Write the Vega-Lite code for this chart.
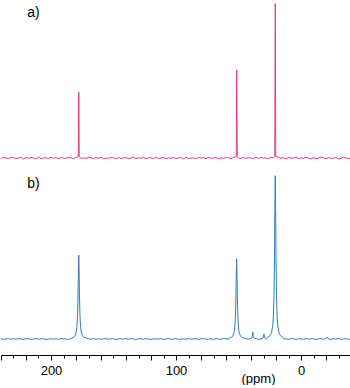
{
"$schema": "https://vega.github.io/schema/vega-lite/v6.json",
"padding": 0,
"spacing": 5,
"config": {"view": {"stroke": null}, "font": "Liberation Sans"},
"datasets": {
"a": [
{"p":-40,"i":0.3},{"p":-38,"i":-0.4},{"p":-36,"i":0.1},{"p":-34,"i":0.6},{"p":-32,"i":-0.2},{"p":-30,"i":-0.6},{"p":-28,"i":0.4},{"p":-26,"i":0.0},{"p":-24,"i":-0.3},{"p":-22,"i":0.5},
{"p":-20,"i":-0.5},{"p":-18,"i":0.2},{"p":-16,"i":0.7},{"p":-14,"i":-0.1},{"p":-12,"i":-0.4},{"p":-10,"i":0.3},{"p":-8,"i":-0.7},{"p":-6,"i":0.1},{"p":-4,"i":0.5},{"p":-2,"i":-0.3},
{"p":0,"i":0.2},{"p":2,"i":-0.5},{"p":4,"i":0.6},{"p":6,"i":-0.1},{"p":8,"i":0.0},{"p":10,"i":0.4},{"p":12,"i":-0.6},{"p":14,"i":0.3},{"p":16,"i":-0.2},{"p":18,"i":0.6},
{"p":20.2,"i":1.0},{"p":20.6,"i":100},{"p":21.0,"i":1.0},
{"p":22,"i":0.1},{"p":24,"i":0.5},{"p":26,"i":-0.6},{"p":28,"i":0.2},{"p":30,"i":-0.1},{"p":32,"i":0.4},{"p":34,"i":-0.3},{"p":36,"i":0.6},{"p":38,"i":-0.5},{"p":40,"i":0.1},
{"p":42,"i":0.3},{"p":44,"i":-0.4},{"p":46,"i":0.5},{"p":48,"i":-0.2},{"p":50,"i":0.0},
{"p":51.0,"i":0.8},{"p":51.4,"i":57},{"p":51.8,"i":0.8},
{"p":54,"i":0.4},{"p":56,"i":-0.5},{"p":58,"i":0.2},{"p":60,"i":0.6},{"p":62,"i":-0.3},{"p":64,"i":0.1},{"p":66,"i":-0.6},{"p":68,"i":0.4},{"p":70,"i":0.0},
{"p":72,"i":-0.2},{"p":74,"i":0.5},{"p":76,"i":-0.4},{"p":78,"i":0.3},{"p":80,"i":-0.1},{"p":82,"i":0.6},{"p":84,"i":-0.5},{"p":86,"i":0.2},{"p":88,"i":0.0},{"p":90,"i":-0.3},
{"p":92,"i":0.5},{"p":94,"i":-0.6},{"p":96,"i":0.3},{"p":98,"i":0.1},{"p":100,"i":-0.4},{"p":102,"i":0.6},{"p":104,"i":-0.2},{"p":106,"i":0.2},{"p":108,"i":-0.5},{"p":110,"i":0.4},
{"p":112,"i":0.0},{"p":114,"i":-0.3},{"p":116,"i":0.7},{"p":118,"i":-0.4},{"p":120,"i":0.1},{"p":122,"i":0.3},{"p":124,"i":-0.6},{"p":126,"i":0.5},{"p":128,"i":-0.1},{"p":130,"i":0.2},
{"p":132,"i":-0.4},{"p":134,"i":0.6},{"p":136,"i":0.0},{"p":138,"i":-0.5},{"p":140,"i":0.3},{"p":142,"i":0.1},{"p":144,"i":-0.3},{"p":146,"i":0.5},{"p":148,"i":-0.6},{"p":150,"i":0.2},
{"p":152,"i":0.4},{"p":154,"i":-0.2},{"p":156,"i":0.0},{"p":158,"i":-0.5},{"p":160,"i":0.6},{"p":162,"i":-0.1},{"p":164,"i":0.3},{"p":166,"i":-0.4},{"p":168,"i":0.2},{"p":170,"i":0.5},
{"p":172,"i":-0.3},{"p":174,"i":0.1},{"p":176,"i":-0.2},
{"p":177.4,"i":0.8},{"p":177.8,"i":42.7},{"p":178.2,"i":0.8},
{"p":180,"i":0.4},{"p":182,"i":-0.5},{"p":184,"i":0.2},{"p":186,"i":0.6},{"p":188,"i":-0.3},{"p":190,"i":0.0},
{"p":192,"i":0.4},{"p":194,"i":-0.6},{"p":196,"i":0.3},{"p":198,"i":-0.1},{"p":200,"i":0.5},{"p":202,"i":-0.4},{"p":204,"i":0.2},{"p":206,"i":0.0},{"p":208,"i":-0.3},{"p":210,"i":0.6},
{"p":212,"i":-0.5},{"p":214,"i":0.1},{"p":216,"i":0.4},{"p":218,"i":-0.2},{"p":220,"i":0.3},{"p":222,"i":-0.6},{"p":224,"i":0.5},{"p":226,"i":0.0},{"p":228,"i":-0.3},{"p":230,"i":0.2},
{"p":232,"i":0.6},{"p":234,"i":-0.4},{"p":236,"i":0.1},{"p":238,"i":0.3},{"p":240,"i":-0.2}
],
"b": [
{"p":-40,"i":0.1},{"p":-38,"i":-0.3},{"p":-36,"i":0.2},{"p":-34,"i":0.0},{"p":-32,"i":-0.2},{"p":-30,"i":0.3},{"p":-28,"i":-0.1},{"p":-26,"i":0.2},{"p":-24,"i":-0.3},{"p":-22,"i":0.1},
{"p":-21.6,"i":0.3},{"p":-20.8,"i":1.2},{"p":-20.0,"i":0.3},
{"p":-18,"i":-0.2},{"p":-16,"i":0.3},{"p":-14,"i":0.0},{"p":-12,"i":-0.3},{"p":-10,"i":0.2},{"p":-8,"i":0.1},{"p":-6,"i":-0.2},{"p":-4,"i":0.3},{"p":-2,"i":-0.1},
{"p":0,"i":0.0},{"p":2,"i":0.2},{"p":4,"i":-0.3},{"p":6,"i":0.1},{"p":8,"i":0.3},{"p":10,"i":-0.2},{"p":12,"i":0.0},{"p":14,"i":0.2},
{"p":14.6,"i":1.0},{"p":16.6,"i":2.2},{"p":17.6,"i":3.8},{"p":18.6,"i":8.3},{"p":19.1,"i":13.8},{"p":19.6,"i":26.5},{"p":20.0,"i":50},{"p":20.3,"i":80},{"p":20.6,"i":100},
{"p":20.9,"i":80},{"p":21.2,"i":50},{"p":21.6,"i":26.5},{"p":22.1,"i":13.8},{"p":22.6,"i":8.3},{"p":23.6,"i":3.8},{"p":24.6,"i":2.2},{"p":26.6,"i":1.0},
{"p":28,"i":-0.2},
{"p":28.6,"i":0.3},{"p":29.2,"i":1.1},{"p":29.6,"i":3.1},{"p":30.0,"i":1.1},{"p":30.6,"i":0.3},
{"p":32,"i":0.1},{"p":34,"i":-0.2},{"p":36,"i":0.2},
{"p":37.6,"i":0.4},{"p":38.2,"i":1.5},{"p":38.6,"i":4.3},{"p":39.0,"i":1.5},{"p":39.6,"i":0.4},
{"p":42,"i":-0.1},{"p":44,"i":0.2},
{"p":45.5,"i":0.5},{"p":47.5,"i":1.1},{"p":48.5,"i":1.9},{"p":49.5,"i":4.1},{"p":50.0,"i":6.8},{"p":50.5,"i":13.0},{"p":50.9,"i":24.5},{"p":51.2,"i":39.2},{"p":51.5,"i":49},
{"p":51.8,"i":39.2},{"p":52.1,"i":24.5},{"p":52.5,"i":13.0},{"p":53.0,"i":6.8},{"p":53.5,"i":4.1},{"p":54.5,"i":1.9},{"p":55.5,"i":1.1},{"p":57.5,"i":0.5},
{"p":58,"i":-0.2},{"p":60,"i":0.1},{"p":62,"i":0.3},{"p":64,"i":-0.2},{"p":66,"i":0.0},{"p":68,"i":0.2},{"p":70,"i":-0.3},
{"p":72,"i":0.1},{"p":74,"i":0.0},{"p":76,"i":-0.2},{"p":78,"i":0.3},{"p":80,"i":0.1},{"p":82,"i":-0.3},{"p":84,"i":0.2},{"p":86,"i":0.0},{"p":88,"i":-0.1},{"p":90,"i":0.3},
{"p":92,"i":-0.2},{"p":94,"i":0.1},{"p":96,"i":0.0},{"p":98,"i":-0.3},{"p":100,"i":0.2},{"p":102,"i":0.1},{"p":104,"i":-0.2},{"p":106,"i":0.3},{"p":108,"i":0.0},{"p":110,"i":-0.3},
{"p":112,"i":0.2},{"p":114,"i":0.1},{"p":116,"i":-0.1},{"p":118,"i":0.2},{"p":120,"i":-0.3},{"p":122,"i":0.0},{"p":124,"i":0.3},{"p":126,"i":-0.2},{"p":128,"i":0.1},{"p":130,"i":0.2},
{"p":132,"i":-0.3},{"p":134,"i":0.0},{"p":136,"i":0.2},{"p":138,"i":-0.1},{"p":140,"i":0.3},{"p":142,"i":-0.2},{"p":144,"i":0.1},{"p":146,"i":0.0},{"p":148,"i":-0.3},{"p":150,"i":0.2},
{"p":152,"i":0.1},{"p":154,"i":-0.2},{"p":156,"i":0.3},{"p":158,"i":0.0},{"p":160,"i":-0.2},{"p":162,"i":0.2},{"p":164,"i":-0.1},{"p":166,"i":0.3},{"p":168,"i":-0.2},{"p":170,"i":0.1},
{"p":171.8,"i":0.5},{"p":173.8,"i":1.1},{"p":174.8,"i":2.0},{"p":175.8,"i":4.3},{"p":176.3,"i":7.1},{"p":176.8,"i":13.6},{"p":177.2,"i":25.7},{"p":177.5,"i":41.1},{"p":177.8,"i":51.4},
{"p":178.1,"i":41.1},{"p":178.4,"i":25.7},{"p":178.8,"i":13.6},{"p":179.3,"i":7.1},{"p":179.8,"i":4.3},{"p":180.8,"i":2.0},{"p":181.8,"i":1.1},{"p":183.8,"i":0.5},
{"p":184,"i":0.2},{"p":186,"i":-0.3},{"p":188,"i":0.1},{"p":190,"i":0.0},
{"p":192,"i":0.3},{"p":194,"i":-0.2},{"p":196,"i":0.1},{"p":198,"i":-0.1},{"p":200,"i":0.2},{"p":202,"i":0.0},{"p":204,"i":-0.3},{"p":206,"i":0.2},{"p":208,"i":0.1},{"p":210,"i":-0.2},
{"p":212,"i":0.3},{"p":214,"i":0.0},{"p":216,"i":-0.2},{"p":218,"i":0.1},{"p":220,"i":0.3},{"p":222,"i":-0.3},{"p":224,"i":0.0},{"p":226,"i":0.2},{"p":228,"i":-0.1},{"p":230,"i":0.1},
{"p":232,"i":-0.2},{"p":234,"i":0.3},{"p":236,"i":0.0},{"p":238,"i":-0.2},{"p":240,"i":0.1}
],
"labA": [{"p":214,"i":94.2,"t":"a)"}],
"labB": [{"p":214,"i":94.9,"t":"b)"}]
},
"vconcat": [
{
"width": 350, "height": 165,
"layer": [
{"data": {"name": "a"},
 "mark": {"type": "line", "color": "#e0407e", "strokeWidth": 1, "clip": true},
 "encoding": {
  "x": {"field": "p", "type": "quantitative", "scale": {"domain": [-40, 240], "reverse": true, "nice": false, "zero": false}, "axis": null},
  "y": {"field": "i", "type": "quantitative", "scale": {"domain": [-4.5, 102.3], "nice": false, "zero": false}, "axis": null}
 }},
{"data": {"name": "labA"},
 "mark": {"type": "text", "fontSize": 14, "align": "center", "baseline": "middle", "color": "black"},
 "encoding": {
  "x": {"field": "p", "type": "quantitative"},
  "y": {"field": "i", "type": "quantitative"},
  "text": {"field": "t"}
 }}
]
},
{
"width": 350, "height": 185,
"layer": [
{"data": {"name": "b"},
 "mark": {"type": "line", "color": "#2f7cc2", "strokeWidth": 1, "clip": true},
 "encoding": {
  "x": {"field": "p", "type": "quantitative", "scale": {"domain": [-40, 240], "reverse": true, "nice": false, "zero": false},
   "axis": {"values": [-40,-30,-20,-10,0,10,20,30,40,50,60,70,80,90,100,110,120,130,140,150,160,170,180,190,200,210,220,230,240],
    "tickCount": 60,
    "labelExpr": "datum.value % 100 === 0 ? datum.label : ''",
    "tickSize": {"condition": {"test": "datum.value % 20 === 0", "value": 5}, "value": 3},
    "tickWidth": 1,
    "grid": false, "domainColor": "black", "tickColor": "black", "labelColor": "black", "labelFontSize": 13, "labelPadding": 4,
    "labelFlush": false, "labelOverlap": false,
    "title": "(ppm)", "titleFontSize": 13, "titleFontWeight": "normal", "titleColor": "black", "titleX": 257, "titleY": 17}},
  "y": {"field": "i", "type": "quantitative", "scale": {"domain": [-9.8, 103.5], "nice": false, "zero": false}, "axis": null}
 }},
{"data": {"name": "labB"},
 "mark": {"type": "text", "fontSize": 14, "align": "center", "baseline": "middle", "color": "black"},
 "encoding": {
  "x": {"field": "p", "type": "quantitative"},
  "y": {"field": "i", "type": "quantitative"},
  "text": {"field": "t"}
 }}
]
}
]
}
